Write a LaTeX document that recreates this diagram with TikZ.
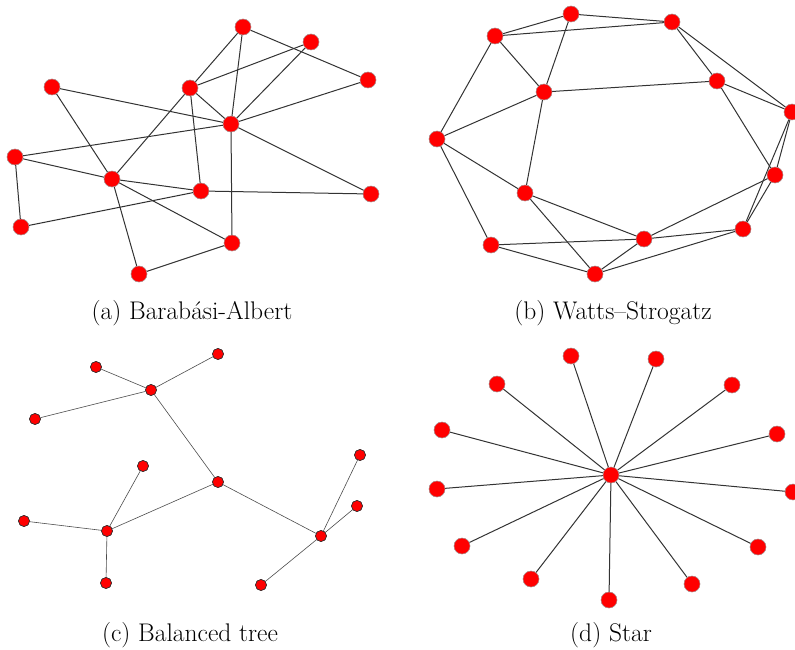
\documentclass[tikz,border=0pt]{standalone}
\begin{document}
\begin{tikzpicture}[x=1pt,y=-1pt,
  bignode/.style={circle,fill=red,draw=gray!70,line width=0.4pt,inner sep=0pt,minimum size=16pt},
  smallnode/.style={circle,fill=red,draw=black!80,line width=0.6pt,inner sep=0pt,minimum size=11pt},
  edge/.style={draw=black!80,line width=1pt},
  thinedge/.style={draw=black!70,line width=0.6pt},
  caption/.style={font=\fontsize{25.5}{30}\selectfont,anchor=base}]
\useasboundingbox (0,0) rectangle (795,650);

% ---------- (a) Barabasi-Albert ----------
\begin{scope}[every node/.style={bignode}]
\node (a1) at (243,27) {};
\node (a2) at (311,42) {};
\node (a3) at (368,80) {};
\node (a4) at (52,87) {};
\node (a5) at (190,88) {};
\node (a6) at (231,124) {};
\node (a7) at (15,157) {};
\node (a8) at (112,179) {};
\node (a9) at (201,191) {};
\node (a10) at (371,194) {};
\node (a11) at (21,227) {};
\node (a12) at (232,243) {};
\node (a13) at (139,274) {};
\end{scope}
\foreach \u/\v in {a1/a5,a1/a6,a1/a3,a2/a5,a2/a6,a3/a6,a4/a6,a4/a8,a5/a6,a5/a8,a5/a9,
  a6/a7,a6/a10,a6/a12,a7/a8,a7/a11,a8/a9,a8/a12,a8/a13,a9/a10,a9/a11,a12/a13}
  \path[edge] (\u) -- (\v);

% ---------- (b) Watts-Strogatz ----------
\begin{scope}[every node/.style={bignode}]
\node (b1) at (571,14) {};
\node (b2) at (672,22) {};
\node (b3) at (495,36) {};
\node (b4) at (717,81) {};
\node (b5) at (544,92) {};
\node (b6) at (792,112) {};
\node (b7) at (437,139) {};
\node (b8) at (775,175) {};
\node (b9) at (525,193) {};
\node (b10) at (743,229) {};
\node (b11) at (644,239) {};
\node (b12) at (491,245) {};
\node (b13) at (595,274) {};
\end{scope}
\foreach \u/\v in {b3/b1,b3/b2,b1/b2,b1/b5,b3/b5,b3/b7,b2/b4,b2/b6,b5/b4,b4/b6,b4/b8,
  b5/b7,b5/b9,b6/b10,b6/b8,b8/b10,b7/b9,b7/b12,b9/b11,b9/b13,b11/b8,b11/b10,
  b11/b12,b11/b13,b12/b13,b13/b10}
  \path[edge] (\u) -- (\v);

% ---------- (c) Balanced tree ----------
\begin{scope}[every node/.style={smallnode}]
\node (c1) at (218,354) {};
\node (c2) at (96,367) {};
\node (c3) at (151,390) {};
\node (c4) at (35,419) {};
\node (c5) at (143,466) {};
\node (c6) at (218,482) {};
\node (c7) at (360,455) {};
\node (c8) at (357,506) {};
\node (c9) at (24,521) {};
\node (c10) at (107,531) {};
\node (c11) at (321,536) {};
\node (c12) at (106,583) {};
\node (c13) at (261,585) {};
\end{scope}
\foreach \u/\v in {c3/c2,c3/c1,c3/c4,c3/c6,c6/c10,c6/c11,c10/c5,c10/c9,c10/c12,
  c11/c7,c11/c8,c11/c13}
  \path[thinedge] (\u) -- (\v);

% ---------- (d) Star ----------
\node[bignode] (d0) at (611,475) {};
\foreach \i/\x/\y in {1/571/356,2/656/359,3/497/384,4/732/385,5/442/430,6/777/434,
  7/437/489,8/793/492,9/462/546,10/758/547,11/531/579,12/692/584,13/609/600}
{
  \node[bignode] (d\i) at (\x,\y) {};
  \path[edge] (d0) -- (d\i);
}

% redraw node discs over the connectors
\foreach \n in {a1,a2,a3,a4,a5,a6,a7,a8,a9,a10,a11,a12,a13,
  b1,b2,b3,b4,b5,b6,b7,b8,b9,b10,b11,b12,b13,d0,d1,d2,d3,d4,d5,d6,d7,d8,d9,d10,d11,d12,d13}
  \node[bignode] at (\n) {};
\foreach \n in {c1,c2,c3,c4,c5,c6,c7,c8,c9,c10,c11,c12,c13}
  \node[smallnode] at (\n) {};

% ---------- captions ----------
\node[caption] (capa) at (192,319) {(a) Barabási-Albert};
\node[caption] (capb) at (613,319) {(b) Watts--Strogatz};
\node[caption] (capc) at (190,641) {(c) Balanced tree};
\node[caption] (capd) at (611,641) {(d) Star};
\end{tikzpicture}
\end{document}
